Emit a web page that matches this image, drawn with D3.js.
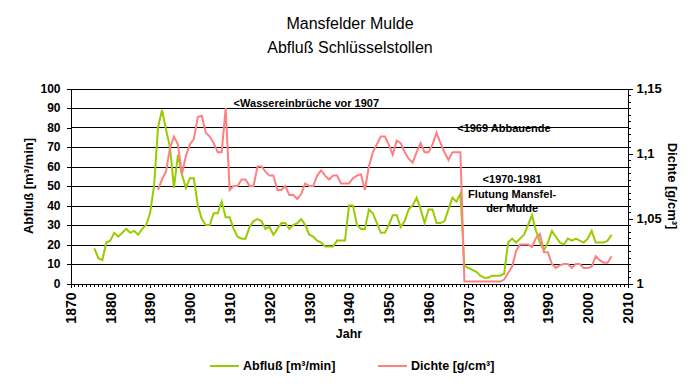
<!DOCTYPE html>
<html>
<head>
<meta charset="utf-8">
<script src="https://cdn.jsdelivr.net/npm/d3@7"></script>
<style>
  body { margin: 0; background: #fff; }
  text { font-family: Arial, "Liberation Sans", sans-serif; }
</style>
</head>
<body>
<div id="chart"></div>
<script>
const titleLines = ["Mansfelder Mulde", "Abfluß Schlüsselstollen"];
const xTicks = [1870, 1880, 1890, 1900, 1910, 1920, 1930, 1940, 1950, 1960, 1970, 1980, 1990, 2000, 2010];
const abflussTicks = [0, 10, 20, 30, 40, 50, 60, 70, 80, 90, 100];
const dichteTicks = [1, 1.05, 1.1, 1.15];

// Abfluß [m³/min], one value per year from 1876
const abflussStart = 1876;
const abfluss = [
  18, 13, 12, 21, 22, 26, 24, 26, 28, 26, 27, 25, 28, 30, 36, 50, 80, 89, 79, 70,
  49, 66, 56, 49, 54, 54, 40, 33, 30, 30, 36, 36, 42, 34, 34, 28, 24, 23, 23, 29,
  32, 33, 32, 28, 29, 25, 28, 31, 31, 28, 30, 31, 33, 30, 25, 24, 22, 21, 19, 19,
  19, 22, 22, 22, 40, 40, 30, 28, 28, 38, 36, 31, 26, 26, 30, 35, 35, 29, 32, 38,
  40, 44, 38, 31, 38, 38, 31, 31, 32, 38, 44, 42, 46, 9, 8, 7, 6, 4, 3, 3,
  4, 4, 4, 5, 21, 23, 21, 23, 25, 30, 35, 27, 21, 17, 21, 27, 24, 21, 20, 23,
  22, 23, 22, 21, 23, 27, 21, 21, 21, 22, 25
];

// Dichte [g/cm³], one value per year from 1892
const dichteStart = 1892;
const dichte = [
  1.072, 1.080, 1.086, 1.104, 1.113, 1.107, 1.084, 1.098, 1.107, 1.111,
  1.128, 1.129, 1.116, 1.113, 1.108, 1.101, 1.101, 1.135, 1.072, 1.075,
  1.075, 1.080, 1.080, 1.075, 1.075, 1.090, 1.090, 1.086, 1.083, 1.083,
  1.072, 1.072, 1.075, 1.068, 1.068, 1.065, 1.069, 1.077, 1.075, 1.075,
  1.083, 1.087, 1.083, 1.080, 1.083, 1.083, 1.077, 1.077, 1.077, 1.081,
  1.083, 1.084, 1.072, 1.090, 1.101, 1.107, 1.113, 1.113, 1.107, 1.099,
  1.110, 1.108, 1.101, 1.096, 1.093, 1.101, 1.108, 1.101, 1.101, 1.107,
  1.116, 1.108, 1.101, 1.095, 1.101, 1.101, 1.101, 1.0015, 1.0015, 1.0015,
  1.0015, 1.0015, 1.0015, 1.0015, 1.0015, 1.0015, 1.0015, 1.003, 1.008, 1.013,
  1.025, 1.030, 1.030, 1.030, 1.028, 1.035, 1.038, 1.024, 1.024, 1.015,
  1.012, 1.014, 1.015, 1.015, 1.012, 1.015, 1.015, 1.012, 1.012, 1.013,
  1.021, 1.018, 1.016, 1.016, 1.021
];

const notes = [
  { lines: ["<Wassereinbrüche vor 1907"], year: 1911, value: 90.5, anchor: "start" },
  { lines: ["<1969 Abbauende"], year: 1967.2, value: 77.7, anchor: "start" },
  { lines: ["<1970-1981", "Flutung Mansfel-", "der Mulde"], year: 1981, value: 51.3, anchor: "middle" }
];

const legendItems = [
  { label: "Abfluß [m³/min]", color: "#99cc00", x: 210 },
  { label: "Dichte [g/cm³]", color: "#ff8080", x: 378 }
];

const width = 700, height = 384;
const margin = { left: 70.5, right: 627.5, top: 88.5, bottom: 283.5 };

const svg = d3.select("#chart")
  .append("svg")
  .attr("width", width)
  .attr("height", height);

const x = d3.scaleLinear().domain([1870, 2010]).range([margin.left, margin.right]);
const yL = d3.scaleLinear().domain([0, 100]).range([margin.bottom, margin.top]);
const yR = d3.scaleLinear().domain([1, 1.15]).range([margin.bottom, margin.top]);

const deFormat = d3.formatLocale({ decimal: ",", thousands: ".", grouping: [3], currency: ["", "€"] });
const fmtR = d => deFormat.format("~g")(d);

// title
svg.append("g").selectAll("text")
  .data(titleLines)
  .enter().append("text")
  .attr("x", 350)
  .attr("y", (d, i) => 29 + i * 24)
  .attr("text-anchor", "middle")
  .attr("font-size", "16px")
  .text(d => d);

// gridlines
svg.append("g")
  .selectAll("line")
  .data(abflussTicks)
  .enter().append("line")
  .attr("x1", margin.left)
  .attr("x2", margin.right)
  .attr("y1", d => Math.round(yL(d)) + 0.5)
  .attr("y2", d => Math.round(yL(d)) + 0.5)
  .attr("stroke", "#000")
  .attr("shape-rendering", "crispEdges");

// left axis
const gL = svg.append("g")
  .attr("transform", `translate(${margin.left},0)`)
  .call(d3.axisLeft(yL).tickValues(abflussTicks).tickSize(4).tickPadding(6).tickFormat(d3.format("d")));

// right axis: minor + major
svg.append("g")
  .attr("transform", `translate(${margin.right},0)`)
  .call(d3.axisRight(yR).tickValues(d3.range(0, 31).map(i => 1 + i * 0.005)).tickSize(3).tickFormat(""));
const gR = svg.append("g")
  .attr("transform", `translate(${margin.right},0)`)
  .call(d3.axisRight(yR).tickValues(dichteTicks).tickSize(5).tickPadding(4).tickFormat(fmtR));

// bottom axis: yearly minor + decade labels
svg.append("g")
  .attr("transform", `translate(0,${margin.bottom})`)
  .call(d3.axisBottom(x).tickValues(d3.range(1870, 2011)).tickSize(3).tickFormat(""));
const gB = svg.append("g")
  .attr("transform", `translate(0,${margin.bottom})`)
  .call(d3.axisBottom(x).tickValues(xTicks).tickSize(4).tickFormat(d3.format("d")));

gB.selectAll("text")
  .attr("transform", "rotate(-90)")
  .attr("text-anchor", "end")
  .attr("x", -9)
  .attr("y", 0)
  .attr("dy", "0.35em");

svg.selectAll(".domain, .tick line")
  .attr("stroke", "#000")
  .attr("shape-rendering", "crispEdges");

svg.selectAll(".tick text")
  .attr("fill", "#000")
  .attr("font-weight", "bold")
  .attr("font-family", "Arial, 'Liberation Sans', sans-serif");
gL.selectAll("text").attr("font-size", "12px");
gR.selectAll("text").attr("font-size", "13px");
gB.selectAll("text").attr("font-size", "14px");

// axis titles
svg.append("text")
  .attr("transform", `translate(28,${(margin.top + margin.bottom) / 2}) rotate(-90)`)
  .attr("text-anchor", "middle")
  .attr("dy", "0.35em")
  .attr("font-size", "13px")
  .attr("font-weight", "bold")
  .text("Abfluß [m³/min]");

svg.append("text")
  .attr("transform", `translate(673,${(margin.top + margin.bottom) / 2}) rotate(90)`)
  .attr("text-anchor", "middle")
  .attr("dy", "0.35em")
  .attr("font-size", "13px")
  .attr("font-weight", "bold")
  .text("Dichte [g/cm³]");

svg.append("text")
  .attr("x", 349)
  .attr("y", 338)
  .attr("text-anchor", "middle")
  .attr("font-size", "12.5px")
  .attr("font-weight", "bold")
  .text("Jahr");

// series
const abflussData = abfluss.map((v, i) => ({ year: abflussStart + i, value: v }));
const dichteData = dichte.map((v, i) => ({ year: dichteStart + i, value: v }));

svg.append("path")
  .datum(abflussData)
  .attr("fill", "none")
  .attr("stroke", "#99cc00")
  .attr("stroke-width", 2)
  .attr("d", d3.line().x(d => x(d.year)).y(d => yL(d.value)));

svg.append("path")
  .datum(dichteData)
  .attr("fill", "none")
  .attr("stroke", "#ff8080")
  .attr("stroke-width", 2)
  .attr("d", d3.line().x(d => x(d.year)).y(d => yR(d.value)));

// annotations
notes.forEach(n => {
  svg.append("g").selectAll("text")
    .data(n.lines)
    .enter().append("text")
    .attr("x", x(n.year))
    .attr("y", (d, i) => yL(n.value) + i * 14.5)
    .attr("text-anchor", n.anchor)
    .attr("font-size", "11px")
    .attr("font-weight", "bold")
    .text(d => d);
});

// legend
const lg = svg.append("g").selectAll("g")
  .data(legendItems)
  .enter().append("g")
  .attr("transform", d => `translate(${d.x},366)`);

lg.append("line")
  .attr("x1", 0).attr("x2", 29)
  .attr("stroke", d => d.color)
  .attr("stroke-width", 2);

lg.append("text")
  .attr("x", 33)
  .attr("dy", "0.35em")
  .attr("font-size", "12.5px")
  .attr("font-weight", "bold")
  .text(d => d.label);
</script>
</body>
</html>
